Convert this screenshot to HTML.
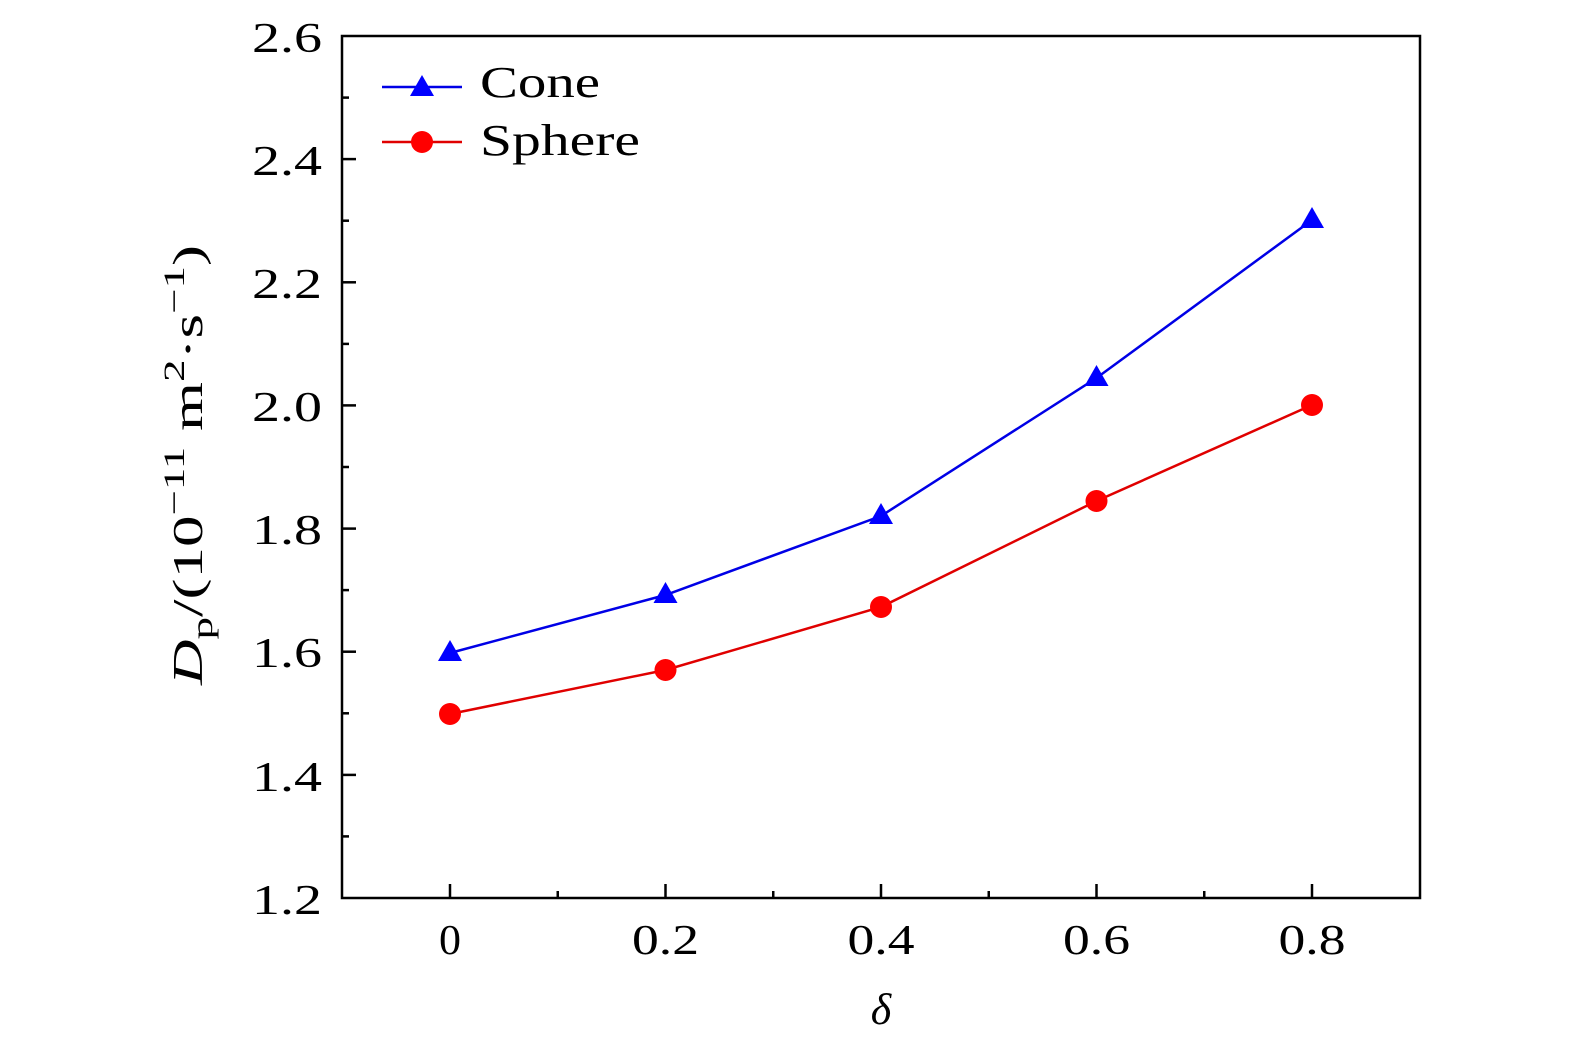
<!DOCTYPE html>
<html><head><meta charset="utf-8"><style>
html,body{margin:0;padding:0;background:#fff;}
svg text{font-family:"Liberation Serif",serif;fill:#000;}
</style></head><body>
<svg width="1575" height="1053" viewBox="0 0 1575 1053" xmlns="http://www.w3.org/2000/svg">
<rect x="342" y="36" width="1078" height="862" fill="none" stroke="#000" stroke-width="2.5"/>
<g stroke="#000" stroke-width="2.5">
<line x1="450" y1="898" x2="450" y2="884"/><line x1="665.5" y1="898" x2="665.5" y2="884"/>
<line x1="881" y1="898" x2="881" y2="884"/><line x1="1096.5" y1="898" x2="1096.5" y2="884"/>
<line x1="1312" y1="898" x2="1312" y2="884"/>
<line x1="557.75" y1="898" x2="557.75" y2="891"/><line x1="773.25" y1="898" x2="773.25" y2="891"/>
<line x1="988.75" y1="898" x2="988.75" y2="891"/><line x1="1204.25" y1="898" x2="1204.25" y2="891"/>
<line x1="342" y1="159.1" x2="356" y2="159.1"/><line x1="342" y1="282.3" x2="356" y2="282.3"/>
<line x1="342" y1="405.4" x2="356" y2="405.4"/><line x1="342" y1="528.6" x2="356" y2="528.6"/>
<line x1="342" y1="651.7" x2="356" y2="651.7"/><line x1="342" y1="774.9" x2="356" y2="774.9"/>
<line x1="342" y1="97.6" x2="349" y2="97.6"/><line x1="342" y1="220.7" x2="349" y2="220.7"/>
<line x1="342" y1="343.9" x2="349" y2="343.9"/><line x1="342" y1="467" x2="349" y2="467"/>
<line x1="342" y1="590.1" x2="349" y2="590.1"/><line x1="342" y1="713.3" x2="349" y2="713.3"/>
<line x1="342" y1="836.4" x2="349" y2="836.4"/>
</g>
<g font-size="42">
<text x="252" y="52" textLength="70" lengthAdjust="spacingAndGlyphs">2.6</text>
<text x="252" y="175" textLength="70" lengthAdjust="spacingAndGlyphs">2.4</text>
<text x="252" y="298" textLength="70" lengthAdjust="spacingAndGlyphs">2.2</text>
<text x="252" y="421" textLength="70" lengthAdjust="spacingAndGlyphs">2.0</text>
<text x="252" y="544" textLength="70" lengthAdjust="spacingAndGlyphs">1.8</text>
<text x="252" y="667" textLength="70" lengthAdjust="spacingAndGlyphs">1.6</text>
<text x="252" y="791" textLength="70" lengthAdjust="spacingAndGlyphs">1.4</text>
<text x="252" y="914" textLength="70" lengthAdjust="spacingAndGlyphs">1.2</text>
</g>
<g font-size="42">
<text x="439" y="954" textLength="22" lengthAdjust="spacingAndGlyphs">0</text>
<text x="632" y="954" textLength="67" lengthAdjust="spacingAndGlyphs">0.2</text>
<text x="847.5" y="954" textLength="67" lengthAdjust="spacingAndGlyphs">0.4</text>
<text x="1063" y="954" textLength="67" lengthAdjust="spacingAndGlyphs">0.6</text>
<text x="1278.5" y="954" textLength="67" lengthAdjust="spacingAndGlyphs">0.8</text>
<text x="881" y="1024" font-style="italic" font-size="44" text-anchor="middle">δ</text>
</g>
<text transform="translate(202,685) rotate(-90)" font-size="42" textLength="440" lengthAdjust="spacingAndGlyphs"><tspan font-style="italic">D</tspan><tspan font-size="30" dy="10">p</tspan><tspan dy="-10">/(10</tspan><tspan font-size="30" dy="-18">−11</tspan><tspan dy="18"> m</tspan><tspan font-size="30" dy="-18">2</tspan><tspan dy="18">·s</tspan><tspan font-size="30" dy="-18">−1</tspan><tspan dy="18">)</tspan></text>
<polyline points="450,653 665.5,595 881,516 1096.5,378 1312,220" fill="none" stroke="#0000e6" stroke-width="2.5"/>
<polyline points="450,714 665.5,670 881,607 1096.5,501 1312,405" fill="none" stroke="#e00000" stroke-width="2.5"/>
<g fill="#0000ff">
<polygon points="450,640 438,661 462,661"/><polygon points="665.5,582 653.5,603 677.5,603"/>
<polygon points="881,503 869,524 893,524"/><polygon points="1096.5,365 1084.5,386 1108.5,386"/>
<polygon points="1312,207 1300,228 1324,228"/>
</g>
<g fill="#ff0000">
<circle cx="450" cy="714" r="11"/><circle cx="665.5" cy="670" r="11"/><circle cx="881" cy="607" r="11"/>
<circle cx="1096.5" cy="501" r="11"/><circle cx="1312" cy="405" r="11"/>
</g>
<line x1="382" y1="87" x2="462" y2="87" stroke="#0000e6" stroke-width="2.5"/>
<polygon points="422,75 410,96 434,96" fill="#0000ff"/>
<line x1="382" y1="142" x2="462" y2="142" stroke="#e00000" stroke-width="2.5"/>
<circle cx="422" cy="142" r="11" fill="#ff0000"/>
<text x="480" y="97" font-size="44" textLength="120" lengthAdjust="spacingAndGlyphs">Cone</text>
<text x="480" y="155" font-size="44" textLength="160" lengthAdjust="spacingAndGlyphs">Sphere</text>
</svg>
</body></html>
